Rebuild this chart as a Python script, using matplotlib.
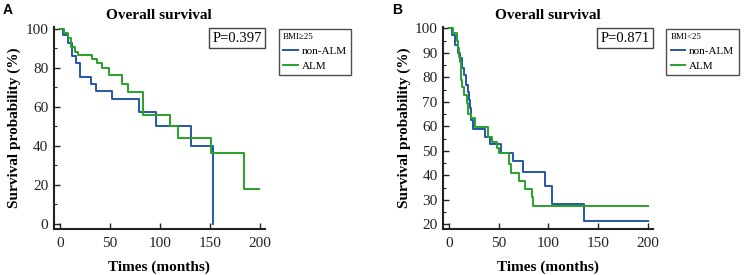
import matplotlib
matplotlib.use("Agg")
import matplotlib.pyplot as plt
from matplotlib.ticker import MultipleLocator

plt.rcParams["font.family"] = ["Liberation Serif", "DejaVu Serif"]

# Panel A: BMI >= 25
a_blue_t = [0, 3.3, 7.6, 11.6, 15.8, 19.8, 30.7, 35.6, 52.2, 79.5, 96, 131, 153]
a_blue_s = [100, 96.9, 93, 86.2, 82.7, 75.5, 71.8, 68.4, 63.9, 57.6, 50.3, 40.2, 0]
a_green_t = [0, 4, 7.6, 11, 15, 18, 32, 37, 41.6, 48.8, 62, 67.7, 82.7, 110, 117.8, 151.5, 184.5, 199]
a_green_s = [100, 97.8, 95.2, 90.9, 88.4, 86.7, 84.5, 82.4, 79.8, 76.4, 71.8, 67.8, 55.9, 50.3, 43.9, 36.2, 18.1, 18.1]

# Panel B: BMI < 25
b_blue_t = [0, 2.4, 5.8, 8.5, 10.8, 12.5, 14.9, 17, 18.6, 20, 21, 22, 24.3, 36, 41, 52, 64.8, 74.3, 97, 103.7, 135.8, 200]
b_blue_s = [100, 97.3, 93.2, 89.8, 87.8, 84, 81, 76.9, 74.2, 70.8, 67.4, 62.6, 58.9, 55.8, 52.7, 49.1, 45.7, 41.6, 35.8, 28.4, 21.5, 21.5]
b_green_t = [0, 3.5, 7.5, 8.5, 9.8, 10.8, 11.9, 13.2, 15.2, 17.6, 19.3, 22, 26, 39.5, 43, 48, 50, 60.8, 62.5, 70, 76, 83.5, 84.8, 200]
b_green_s = [100, 98, 95, 91.9, 88.4, 86.4, 78.9, 76.2, 72.8, 69.5, 65, 63.3, 59.9, 55.8, 53.6, 51, 49.2, 44.5, 40.8, 37.7, 34.4, 31, 27.6, 27.6]

x_ticks = [0, 50, 100, 150, 200]
p_values = ["P=0.397", "P=0.871"]
legend_titles = ["BMI≥25", "BMI<25"]
series_labels = ["non-ALM", "ALM"]

BLUE = "#2457a8"
GREEN = "#27a327"

fig = plt.figure(figsize=(7.5, 2.75), dpi=100)
axA = fig.add_axes([0.072, 0.167, 0.281, 0.735])
axB = fig.add_axes([0.591, 0.167, 0.279, 0.735])

panels = [
    (axA, a_blue_t, a_blue_s, a_green_t, a_green_s, (-2.6, 101), 20, p_values[0], legend_titles[0], "A"),
    (axB, b_blue_t, b_blue_s, b_green_t, b_green_s, (18.1, 100.6), 10, p_values[1], legend_titles[1], "B"),
]

for ax, bt, bs, gt, gs, ylim, ystep, ptxt, ltitle, letter in panels:
    ax.step(bt, bs, where="post", color=BLUE, lw=1.4, label=series_labels[0])
    ax.step(gt, gs, where="post", color=GREEN, lw=1.4, label=series_labels[1])

    ax.set_xlim(-6, 205)
    ax.set_ylim(*ylim)
    ax.set_xticks(x_ticks)
    ax.yaxis.set_major_locator(MultipleLocator(ystep))
    ax.yaxis.set_minor_locator(MultipleLocator(ystep / 2))

    for side in ["top", "right"]:
        ax.spines[side].set_visible(False)
    for side in ["left", "bottom"]:
        ax.spines[side].set_linewidth(1.5)
        ax.spines[side].set_color("#222222")

    ax.tick_params(axis="both", which="major", direction="in", length=4, width=1,
                   labelsize=11, colors="#222222", pad=4)
    ax.tick_params(axis="y", which="minor", direction="in", length=2.5, width=0.8, colors="#222222")
    ax.tick_params(axis="x", pad=6)

    ax.set_title("Overall survival", fontsize=11, fontweight="bold", pad=6)
    ax.set_xlabel("Times (months)", fontsize=11, fontweight="bold", labelpad=7)
    ax.set_ylabel("Survival probability (%)", fontsize=11, fontweight="bold", labelpad=3)

    ax.text(0.87, 0.945, ptxt, transform=ax.transAxes, ha="center", va="center", fontsize=10.5,
            bbox=dict(boxstyle="square,pad=0.22", fc="white", ec="#444444", lw=1))

    leg = ax.legend(title=ltitle, loc="upper left", bbox_to_anchor=(1.066, 0.99),
                    fontsize=8, title_fontsize=6.5, frameon=True, fancybox=False,
                    edgecolor="#222222", handlelength=1.3, handletextpad=0.35,
                    borderpad=0.4, labelspacing=0.45, borderaxespad=0)
    leg._legend_box.align = "left"
    leg.get_frame().set_linewidth(1)

    pos = ax.get_position()
    fig.text(pos.x0 - 0.068, 0.99, letter, fontsize=10, fontweight="bold",
             family="Liberation Sans", va="top", ha="left")

fig.savefig("out.png", dpi=100)
